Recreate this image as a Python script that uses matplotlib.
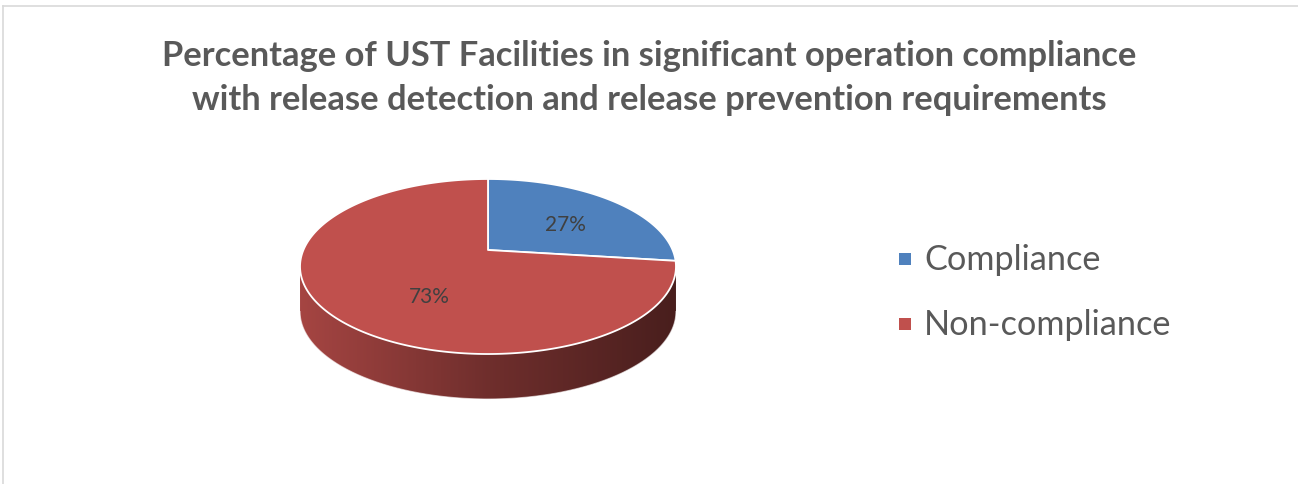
import numpy as np
import matplotlib.pyplot as plt
from matplotlib.patches import Polygon, Rectangle
from matplotlib.colors import LinearSegmentedColormap

# data
categories = ["Compliance", "Non-compliance"]
values = [27, 73]
colors = ["#4F81BD", "#C0504D"]
title = ("Percentage of UST Facilities in significant operation compliance\n"
         "with release detection and release prevention requirements")

# pie geometry (pixel space), slight perspective like the excel 3d pie
cx, cy = 488, 251
a, b, k = 184.6, 84.4, 0.1886
depth = 45


def proj(t, r=1.0):
    u = r * np.cos(t)
    v = r * np.sin(t)
    w = 1 + k * v
    return cx + a * u / w, cy - b * v / w


def shade(hexcol, f):
    c = np.array([int(hexcol[i:i + 2], 16) for i in (1, 3, 5)]) / 255.0
    return tuple(np.clip(c * f, 0, 1))


fig = plt.figure(figsize=(12.98, 4.85), dpi=100)
ax = fig.add_axes([0, 0, 1, 1])
ax.set_xlim(0, 1298)
ax.set_ylim(485, 0)
ax.axis('off')

# chart border (top and left visible)
ax.plot([3, 1298], [7, 7], color="#D9D9D9", lw=1.2)
ax.plot([3, 3], [7, 485], color="#D9D9D9", lw=1.2)

fracs = np.array(values) / np.sum(values)
starts = np.pi / 2 - 2 * np.pi * np.concatenate([[0], np.cumsum(fracs)[:-1]])
ends = starts - 2 * np.pi * fracs

# visible side: from left silhouette, through the front, to right silhouette
t_left = np.pi + np.arcsin(k)
t_right = 2 * np.pi - np.arcsin(k)
x0, x1 = proj(t_left)[0], proj(t_right)[0]

for s, e, col in zip(starts, ends, colors):
    lo, hi = e, s
    for off in (-2 * np.pi, 0, 2 * np.pi):
        l2 = max(lo + off, t_left)
        h2 = min(hi + off, t_right)
        if h2 <= l2:
            continue
        ts = np.linspace(l2, h2, 200)
        xs, ys = proj(ts)
        pts = np.vstack([np.column_stack([xs, ys]),
                         np.column_stack([xs[::-1], ys[::-1] + depth])])
        poly = Polygon(pts, closed=True, facecolor='none', edgecolor='none')
        ax.add_patch(poly)
        cmap = LinearSegmentedColormap.from_list(
            "side", [shade(col, 0.86), shade(col, 0.58), shade(col, 0.38)])
        grad = np.linspace(0, 1, 256).reshape(1, -1)
        im = ax.imshow(grad, cmap=cmap, aspect='auto',
                       extent=[x0, x1, cy + 2 * b + depth, cy - 2 * b])
        im.set_clip_path(poly)

ax.set_xlim(0, 1298)
ax.set_ylim(485, 0)

# soft edge along side bottom
ts = np.linspace(t_left, t_right, 300)
xs, ys = proj(ts)
ax.plot(xs, ys + depth, color="white", lw=0.8, alpha=0.6)

# top faces
for s, e, col in zip(starts, ends, colors):
    ts = np.linspace(s, e, 300)
    xs, ys = proj(ts)
    pts = np.vstack([[cx, cy], np.column_stack([xs, ys])])
    ax.add_patch(Polygon(pts, closed=True, facecolor=col,
                         edgecolor="white", lw=1.3, joinstyle='round'))

# data labels
label_r = [0.6, 0.4]
label_dy = [5, depth / 2]
for s, e, v, r, dy in zip(starts, ends, values, label_r, label_dy):
    m = (s + e) / 2
    lx, ly = proj(m, r)
    ax.text(lx, ly + dy, f"{v}%", ha='center', va='center',
            fontsize=15, color="#404040", family="Lato")

# title
ax.text(649, 78, title, ha='center', va='center', fontsize=24.8,
        fontweight='bold', color="#595959", family="Lato", linespacing=1.5)

# legend
leg_y = [260, 325]
for name, col, y in zip(categories, colors, leg_y):
    ax.add_patch(Rectangle((899, y - 6), 12, 12, facecolor=col, edgecolor='none'))
    ax.text(924, y, name, ha='left', va='center', fontsize=24.7,
            color="#595959", family="Lato")

fig.savefig("out.png", dpi=100)
